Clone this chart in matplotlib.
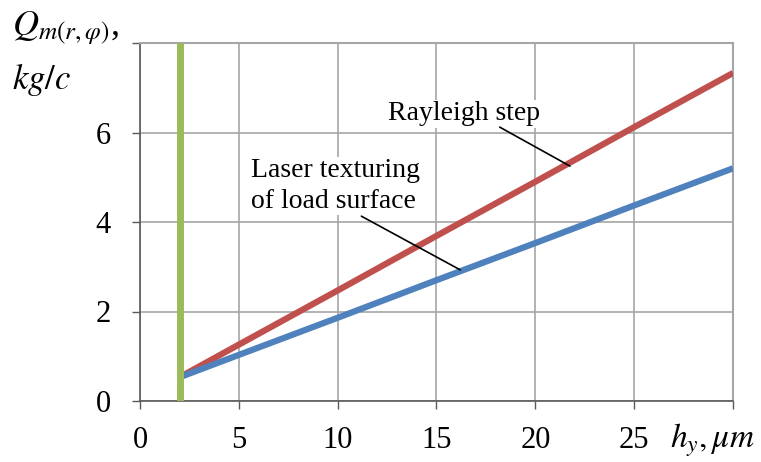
import matplotlib.pyplot as plt

h = [2, 5, 10, 15, 20, 25, 30]
rayleigh = [0.53, 1.26, 2.47, 3.69, 4.90, 6.12, 7.33]
laser = [0.53, 1.03, 1.86, 2.70, 3.53, 4.37, 5.20]
h_min = 2

plt.rcParams['font.family'] = ['Liberation Serif', 'DejaVu Serif']
plt.rcParams['mathtext.fontset'] = 'stix'

fig = plt.figure(figsize=(7.61, 4.62), dpi=100)
ax = fig.add_axes([140 / 761, 61 / 462, 593 / 761, 358 / 462])

ax.plot(h, rayleigh, color='#c0504d', lw=4.5, solid_capstyle='butt', zorder=3)
ax.plot(h, laser, color='#4f81bd', lw=4.5, solid_capstyle='butt', zorder=3)
ax.plot([h_min, h_min], [0, 8], color='#9bbb59', lw=5, solid_capstyle='butt', zorder=4)

ax.set_xlim(0, 30)
ax.set_ylim(0, 8)
ax.set_xticks(range(0, 31, 5))
ax.set_yticks(range(0, 9, 2))
ax.set_xticklabels(['0', '5', '10', '15', '20', '25', ''])
ax.set_yticklabels(['0', '2', '4', '6', ''])
ax.grid(True, color='#a6a6a6', lw=1.2)
ax.set_axisbelow(True)
for s in ['top', 'right']:
    ax.spines[s].set_color('#a6a6a6')
    ax.spines[s].set_linewidth(1.5)
for s in ['left', 'bottom']:
    ax.spines[s].set_color('#595959')
    ax.spines[s].set_linewidth(1.2)
ax.tick_params(axis='both', labelsize=22, length=6, color='#595959', width=1)
ax.tick_params(axis='x', pad=12)
ax.tick_params(axis='y', pad=15)

# leader lines
ax.annotate('', xy=(21.75, 5.25), xytext=(18.2, 6.12),
            arrowprops=dict(arrowstyle='-', color='black', lw=1.2, shrinkA=0, shrinkB=0),
            zorder=5)
ax.annotate('', xy=(16.2, 2.93), xytext=(11.2, 4.13),
            arrowprops=dict(arrowstyle='-', color='black', lw=1.2, shrinkA=0, shrinkB=0),
            zorder=5)

ax.text(12.55, 6.42, 'Rayleigh step', fontsize=20, ha='left', va='center', zorder=2,
        bbox=dict(facecolor='white', edgecolor='none', pad=1))
ax.text(5.6, 4.8, 'Laser texturing\nof load surface', fontsize=20, ha='left', va='center',
        linespacing=1.3, zorder=2, bbox=dict(facecolor='white', edgecolor='none', pad=1))

fig.text(12 / 761, 1 - 28 / 462, r'$Q_{m(r,\varphi)}$,', fontsize=26, ha='left', va='center')
fig.text(12 / 761, 1 - 80 / 462, r'$kg/c$', fontsize=25, ha='left', va='center')
fig.text(670 / 761, 1 - 440 / 462, r'$h_y, \mu m$', fontsize=24, ha='left', va='center')

fig.savefig('out.png', dpi=100)
